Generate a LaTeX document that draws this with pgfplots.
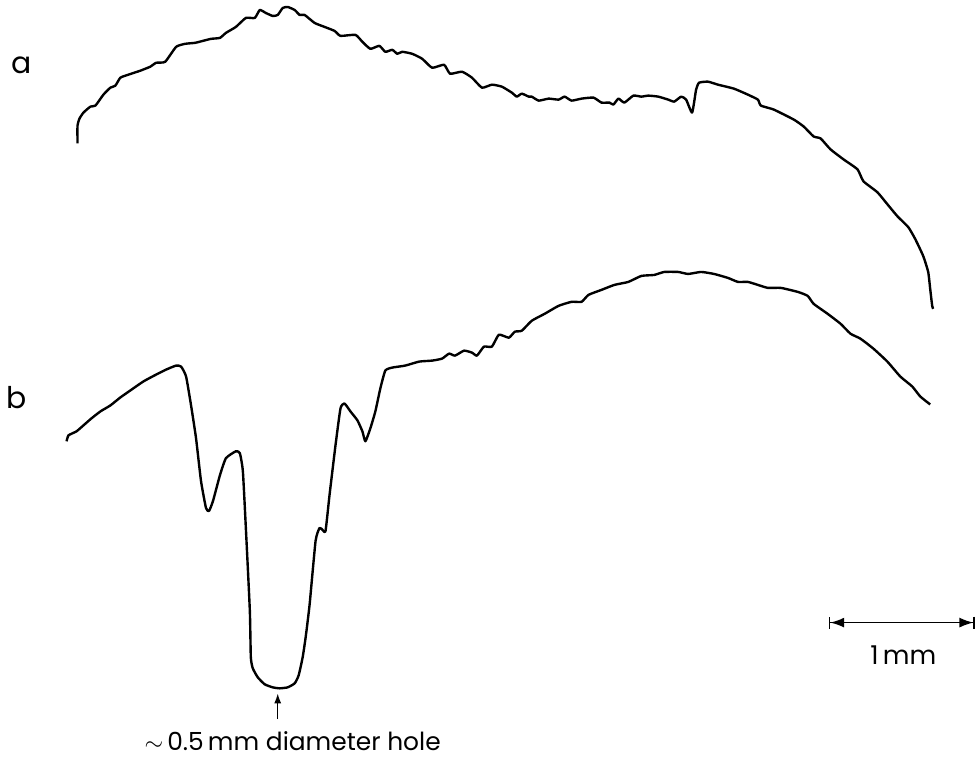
\documentclass[border=0pt]{standalone}
\usepackage{pgfplots}
\pgfplotsset{compat=1.18}
\usetikzlibrary{arrows.meta}
\usepackage{fontspec}
\setmainfont{Poppins}
\begin{document}
\begin{tikzpicture}
\begin{axis}[
  scale only axis, width=488.5pt, height=380.5pt,
  xmin=0, xmax=977, ymin=0, ymax=761, y dir=reverse,
  hide axis, clip=false,
]
\path (rel axis cs:0,0) rectangle (rel axis cs:1,1);
% trace a
\addplot[black, line width=1.2pt, line join=round, smooth, tension=0.3] coordinates {
(74,144)(74,126)(76,119)(80,113)(87,107)(92,106)(100,95)(107,88)(112,86)(117,78)(125,75)
(137,71)(142,69)(147,67)(153,63)(162,62)(173,47)(182,44)(192,43)(200,41)(208,39)
(217,38)(223,33)(233,27)(243,18)(252,18)(257,10)(263,13)(270,16)(275,15)(280,8)
(285,7)(292,10)(297,15)(302,15)(312,23)(322,27)(332,31)(338,36)(353,35)(360,42)
(368,49)(377,46)(383,52)(390,50)(395,54)(400,52)(410,54)(420,59)(430,68)(442,65)
(448,74)(460,72)(470,78)(480,88)(490,85)(500,87)(510,93)(515,97)(520,94)(527,97)
(530,97)(537,101)(547,99)(557,100)(563,97)(570,101)(580,99)(592,98)(600,103)(608,103)
(612,105)(617,99)(623,103)(632,96)(640,97)(647,96)(657,97)(667,100)(673,102)(680,97)
(685,100)(691,113)(695,90)(698,83)(707,82)(717,85)(733,89)(747,95)(757,100)(760,106)
(773,110)(793,120)(803,127)(813,137)(820,139)(830,150)(843,160)(857,170)(863,182)(877,193)
(887,205)(897,217)(908,228)(915,240)(923,257)(928,273)(930,290)(932,307)(933,310)
};
% trace b
\addplot[black, line width=1.2pt, line join=round, smooth, tension=0.3] coordinates {
(63,443)(65,437)(73,433)(80,427)(88,420)(97,413)(107,407)(117,399)(127,392)(140,383)
(153,376)(163,371)(173,367)(178,368)(183,378)(188,407)(193,440)(198,483)(203,510)(206,513)
(210,503)(217,477)(223,460)(233,453)(237,455)(240,473)(243,530)(247,613)(248,660)(250,671)
(255,680)(262,687)(270,690)(277,691)(285,690)(292,686)(296,678)(300,660)(303,640)(307,607)
(313,543)(317,530)(320,532)(323,533)
(327,497)(333,447)(338,410)(342,405)(348,413)(355,422)(360,433)(363,443)(368,430)(373,413)
(378,390)(383,372)(390,369)(403,367)(417,363)(430,362)(440,360)(447,355)(453,357)(462,352)
(470,354)(475,357)(482,348)(490,348)(497,336)(507,339)(513,333)(520,332)(530,322)(543,315)
(557,307)(570,303)(580,303)(587,296)(600,291)(613,286)(627,283)(640,277)(653,276)(663,273)
(677,273)(687,275)(700,273)(713,275)(727,279)(737,283)(747,283)(757,286)(767,289)(780,289)
(797,293)(807,297)(813,305)(827,315)(840,325)(850,335)(860,340)(873,350)(887,363)(900,378)
(912,388)(920,398)(930,406)
};
\node[font=\fontsize{15}{18}\selectfont] at (axis cs:18,66) {a};
\node[font=\fontsize{15}{18}\selectfont] at (axis cs:13,399) {b};
\draw[black, line width=0.7pt, -{Latex[length=5pt,width=3.5pt]}] (axis cs:275,722) -- (axis cs:275,696);
\node[font=\fontsize{12.5}{15}\selectfont] at (axis cs:290,744) {$\sim$\,0.5\,mm diameter hole};
\draw[black, line width=0.8pt, {Bar[width=6pt]Latex[length=7pt,width=5pt]}-{Latex[length=7pt,width=5pt]Bar[width=6pt]}] (axis cs:828,625) -- (axis cs:975,625);
\node[font=\fontsize{13}{16}\selectfont] at (axis cs:903,658) {1\,mm};
\end{axis}
\end{tikzpicture}
\end{document}
